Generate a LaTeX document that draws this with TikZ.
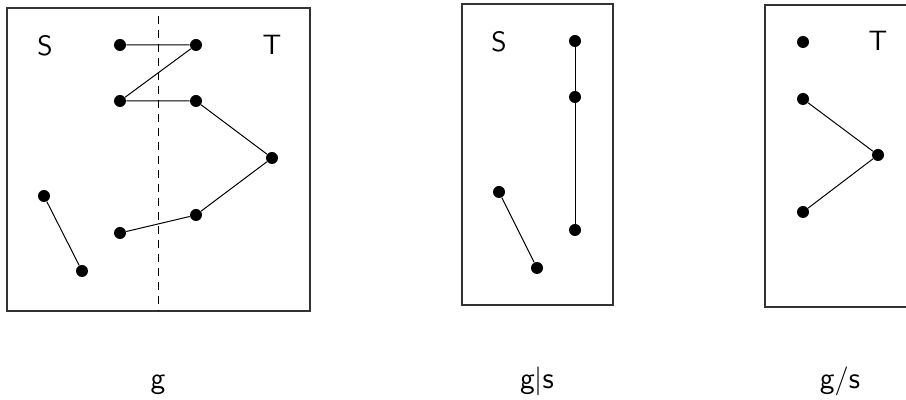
\documentclass[tikz,border=0pt]{standalone}
\begin{document}
\begin{tikzpicture}[x=0.5pt,y=-0.5pt,
  vtx/.style={circle,fill=black,inner sep=0pt,minimum size=6pt},
  edge/.style={line width=0.5pt},
  frame/.style={draw=black!80,line width=0.75pt},
  setname/.style={font=\sffamily\fontsize{14}{16}\selectfont,anchor=base,inner sep=0pt},
  caption/.style={font=\sffamily\fontsize{15}{17}\selectfont,anchor=base,inner sep=0pt}]
\useasboundingbox (0,0) rectangle (906,400);

% graph g with the cut between S and T
\draw[frame] (7,8) rectangle (310,311);
\draw[dashed,line width=0.5pt,dash pattern=on 4pt off 3pt] (158,16) -- (158,311);
\node[setname] (s1) at (45,56) {S};
\node[setname] (t1) at (272,55) {T};
\node[vtx] (a1) at (120,45) {};
\node[vtx] (a2) at (196,45) {};
\node[vtx] (a3) at (120,101) {};
\node[vtx] (a4) at (196,101) {};
\node[vtx] (a5) at (272,158) {};
\node[vtx] (a6) at (44,196) {};
\node[vtx] (a7) at (82,271) {};
\node[vtx] (a8) at (120,233) {};
\node[vtx] (a9) at (196,215) {};
\draw[edge] (a1) -- (a2) -- (a3) -- (a4) -- (a5) -- (a9) -- (a8);
\draw[edge] (a6) -- (a7);
\node[caption] (c1) at (158,389) {g};

% restriction g|S
\draw[frame] (462,4) rectangle (613,305);
\node[setname] (s2) at (499,52) {S};
\node[vtx] (b1) at (575,41) {};
\node[vtx] (b2) at (575,97) {};
\node[vtx] (b3) at (575,230) {};
\node[vtx] (b4) at (499,192) {};
\node[vtx] (b5) at (537,268) {};
\draw[edge] (b1) -- (b2) -- (b3);
\draw[edge] (b4) -- (b5);
\node[caption] (c2) at (537,389) {g$|$s};

% quotient g/S
\draw[frame] (912,5) -- (765,5) -- (765,307) -- (912,307);
\node[setname] (t3) at (878,51) {T};
\node[vtx] (d1) at (803,42) {};
\node[vtx] (d2) at (803,99) {};
\node[vtx] (d3) at (878,155) {};
\node[vtx] (d4) at (803,212) {};
\draw[edge] (d2) -- (d3) -- (d4);
\node[caption] (c3) at (840,389) {g$/$s};
\end{tikzpicture}
\end{document}
